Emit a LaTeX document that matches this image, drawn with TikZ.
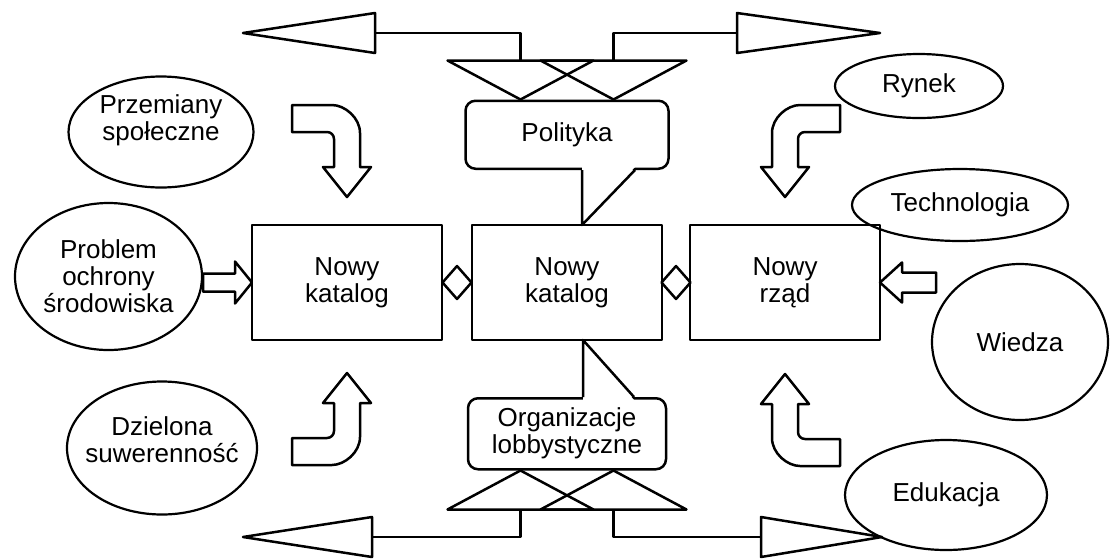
\documentclass[tikz,border=0pt]{standalone}
\usepackage{fontspec}
\setmainfont{Liberation Sans}
\usetikzlibrary{shapes.geometric,calc,positioning}

\tikzset{
  box/.style={draw, minimum width=190pt, minimum height=115pt, outer sep=0pt},
  oval/.style={draw, ellipse, inner sep=0pt, line width=2.2pt},
  note/.style={draw, fill=white, rounded corners=10pt},
  link/.style={draw, fill=white, diamond, inner sep=0pt, minimum width=30pt, minimum height=34pt},
  fat/.style={draw, fill=white},
}

\begin{document}
\begin{tikzpicture}[x=1pt, y=-1pt, line width=2.5pt, line join=round,
    every node/.style={font=\fontsize{26}{27}\selectfont, align=center}]
\useasboundingbox (0,0) rectangle (1111,558);

\node [box] (left) at (347,282.5) {Nowy\\katalog};
\node [box, right=30pt of left] (mid) {Nowy\\katalog};
\node [box, right=28pt of mid] (right) {Nowy\\rząd};
\node [link] (d1) at ($(left.east)!.5!(mid.west)$) {};
\node [link] (d2) at ($(mid.east)!.5!(right.west)$) {};

\node [oval, minimum width=185pt, minimum height=111pt, label={[yshift=11.5pt]center:Przemiany\\społeczne}] (soc) at (161,132) {};
\node [oval, minimum width=187pt, minimum height=147pt, label={center:Problem\\ochrony\\środowiska}] (env) at (108.5,276.5) {};
\node [oval, minimum width=190pt, minimum height=133pt, label={[yshift=8.5pt]center:Dzielona\\suwerenność}] (sov) at (162,448) {};
\node [oval, minimum width=168pt, minimum height=64pt] (mkt) at (919,86) {Rynek};
\node [oval, minimum width=216pt, minimum height=72pt] (tech) at (960,205) {Technologia};
\node [oval, minimum width=176pt, minimum height=156pt] (know) at (1020,342) {Wiedza};
\node [oval, minimum width=202pt, minimum height=110pt] (edu) at (946,495) {Edukacja};

\node [note, minimum width=203pt, minimum height=68pt, above=55pt of mid] (pol) {Polityka};
\node [note, minimum width=198pt, minimum height=71pt, below=57pt of mid] (org) {Organizacje\\lobbystyczne};

\fill [white] ($(pol.south)+(15,-3)$) -- ($(mid.north)+(15,0)$) -- ($(pol.south)+(68,-3)$) -- cycle;
\draw ($(pol.south)+(15,0)$) -- ($(mid.north)+(15,0)$) -- ($(pol.south)+(68,0)$);
\fill [white] ($(org.north)+(16,3)$) -- ($(mid.south)+(16,0)$) -- ($(org.north)+(67,3)$) -- cycle;
\draw ($(org.north)+(16,0)$) -- ($(mid.south)+(16,0)$) -- ($(org.north)+(67,0)$);

\coordinate (nw) at (243,33);
\coordinate (ne) at (880,33);
\coordinate (sw) at (243,537);
\coordinate (se) at (882,537);

\foreach \dx in {-46.5,46.5} {
  \draw ($(pol.north)+(\dx,0)$) -- ++(-73,-39) -- ++(146,0) -- cycle;
  \draw ($(org.south)+(\dx,0)$) -- ++(-73,39) -- ++(146,0) -- cycle;
}
\draw ($(pol.north)+(-46.5,-39)$) |- ($(nw)+(132,0)$);
\draw ($(pol.north)+(46.5,-39)$) |- ($(ne)+(-143,0)$);
\draw ($(org.south)+(-46.5,39)$) |- ($(sw)+(129,0)$);
\draw ($(org.south)+(46.5,39)$) |- ($(se)+(-121,0)$);
\draw [fat] (nw) -- ++(132,-20) -- ++(0,40) -- cycle;
\draw [fat] (ne) -- ++(-143,-20) -- ++(0,40) -- cycle;
\draw [fat] (sw) -- ++(129,-20) -- ++(0,40) -- cycle;
\draw [fat] (se) -- ++(-121,-20) -- ++(0,40) -- cycle;

\foreach \at/\dy/\sx/\sy in {left.north/-28/1/1, right.north/-28/-1/1, left.south/33/1/-1, right.south/34/-1/-1}
  \draw [fat, shift={($(\at)+(0,\dy)$)}, xscale=\sx, yscale=\sy] (0,0) -- (24,-30) -- (13,-30) -- (13,-64)
    .. controls (13,-79.5) and (-2.5,-92) .. (-15,-92) -- (-55,-92) -- (-55,-65) -- (-20,-65)
    .. controls (-16.1,-65) and (-13,-61.9) .. (-13,-58) -- (-13,-30) -- (-24,-30) -- cycle;

\draw [fat] (left.west) -- ++(-17,-21) -- ++(0,12) -- ++(-32,0) -- ++(0,18) -- ++(32,0) -- ++(0,12) -- cycle;
\draw [fat] (right.east) -- ++(22,-20) -- ++(0,10) -- ++(34,0) -- ++(0,20) -- ++(-34,0) -- ++(0,10) -- cycle;
\end{tikzpicture}
\end{document}
